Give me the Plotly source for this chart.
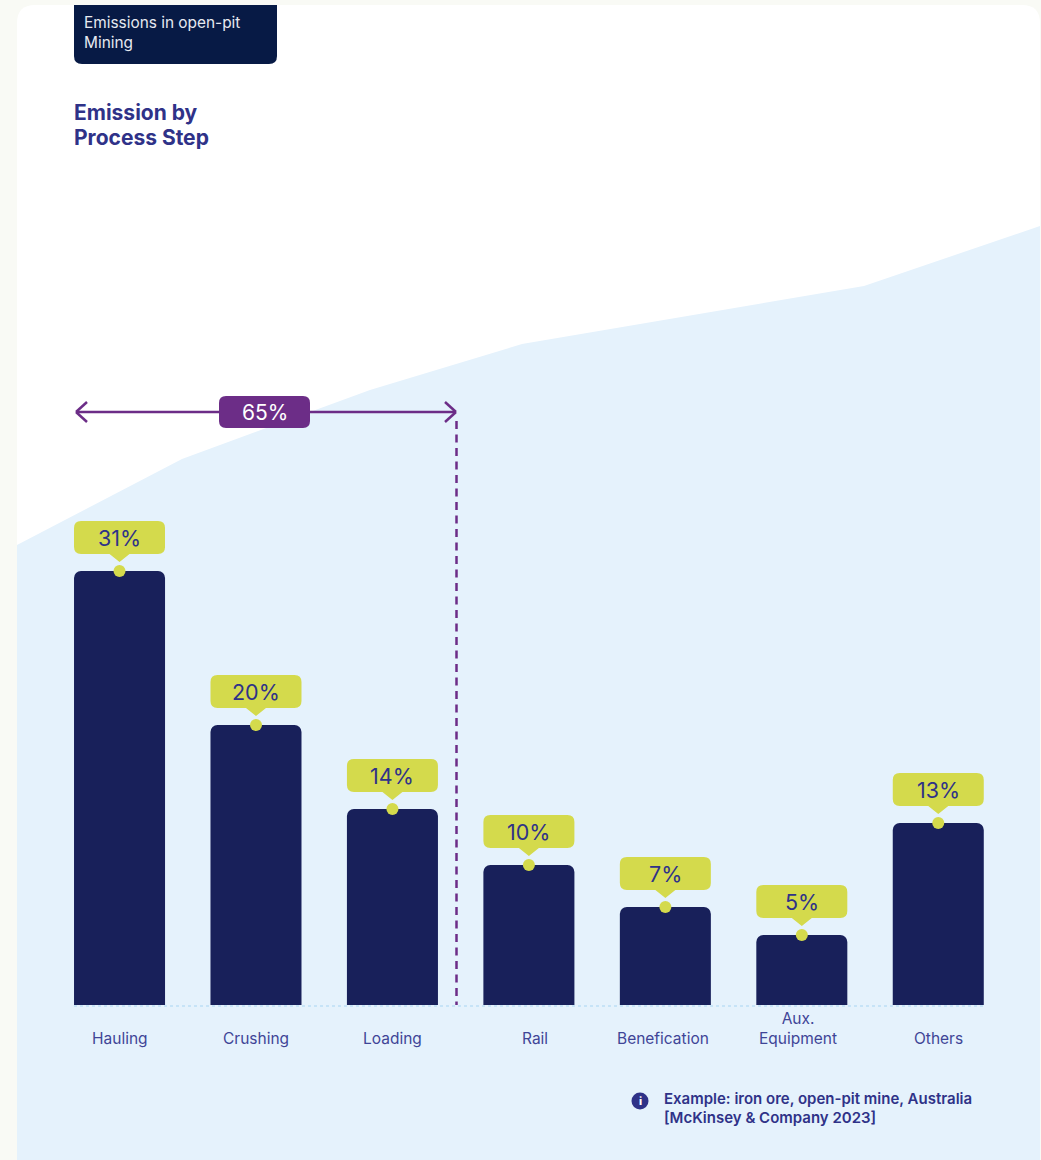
import plotly.graph_objects as go

# Share of open-pit mining emissions per process step
categories = ["Hauling", "Crushing", "Loading", "Rail", "Benefication", "Aux. Equipment", "Others"]
shares = [31, 20, 14, 10, 7, 5, 13]
cumulative_label = "65%"
tick_labels = ["Hauling", "Crushing", "Loading", "Rail", "Benefication", "Aux.<br>Equipment", "Others"]

W, H = 1041, 1160
NAVY, INK, PURPLE, LIME = "#18205A", "#2F3288", "#6C2D87", "#D4DA4C"
SKY, PAGE, HEADER, TICK = "#E5F2FC", "#F9FAF5", "#071A45", "#3F4597"
FONT = "Inter"

# Plot area, in page pixels
BASE_Y = 1005
PLOT_L, PLOT_R = 51.3, 1006.5
PX_PER_POINT = 14.0
label_nudge = [0, 0, 0, 6, -2, -4, 0]


def fx(px):
    return px / W


def fy(py):
    return 1 - py / H


def page_path(points):
    return "M" + " L".join(f"{fx(x):.5f},{fy(y):.5f}" for x, y in points) + " Z"


def rounded_top_path(x0, y0, x1, y1, r):
    """Card outline with rounded top corners, in paper coordinates."""
    rx, ry = r / W, r / H
    l, t, rgt, b = fx(x0), fy(y0), fx(x1), fy(y1)
    return (f"M{l},{b} L{l},{t - ry} Q{l},{t} {l + rx},{t} L{rgt - rx},{t} "
            f"Q{rgt},{t} {rgt},{t - ry} L{rgt},{b} Z")


def rounded_bottom_path(x0, y0, x1, y1, r):
    rx, ry = r / W, r / H
    l, t, rgt, b = fx(x0), fy(y0), fx(x1), fy(y1)
    return (f"M{l},{t} L{rgt},{t} L{rgt},{b + ry} Q{rgt},{b} {rgt - rx},{b} "
            f"L{l + rx},{b} Q{l},{b} {l},{b + ry} Z")


def rounded_rect_path(x0, y0, x1, y1, r):
    rx, ry = r / W, r / H
    l, t, rgt, b = fx(x0), fy(y0), fx(x1), fy(y1)
    return (f"M{l + rx},{t} L{rgt - rx},{t} Q{rgt},{t} {rgt},{t - ry} L{rgt},{b + ry} "
            f"Q{rgt},{b} {rgt - rx},{b} L{l + rx},{b} Q{l},{b} {l},{b + ry} "
            f"L{l},{t - ry} Q{l},{t} {l + rx},{t} Z")


def callout_path(half_w=45.5, bottom=17, top=50, r=7, tip=9, tip_w=10):
    """Label bubble with a pointer, in pixels relative to the top of a bar."""
    return (f"M{-half_w + r},{top} L{half_w - r},{top} Q{half_w},{top} {half_w},{top - r} "
            f"L{half_w},{bottom + r} Q{half_w},{bottom} {half_w - r},{bottom} "
            f"L{tip_w},{bottom} L0,{tip} L{-tip_w},{bottom} L{-half_w + r},{bottom} "
            f"Q{-half_w},{bottom} {-half_w},{bottom + r} L{-half_w},{top - r} "
            f"Q{-half_w},{top} {-half_w + r},{top} Z")


def paper_shape(path, fill, layer="below"):
    return dict(type="path", xref="paper", yref="paper", path=path, fillcolor=fill,
                line_width=0, layer=layer)


def paper_line(x0, y0, x1, y1, color, width, dash="solid", layer="above"):
    return dict(type="line", xref="paper", yref="paper", x0=fx(x0), y0=fy(y0), x1=fx(x1), y1=fy(y1),
                line=dict(color=color, width=width, dash=dash), layer=layer)


fig = go.Figure()

fig.add_bar(x=categories, y=shares, width=0.667, marker=dict(color=NAVY, line_width=0),
            hovertemplate="%{x}: %{y}%<extra></extra>")
fig.add_scatter(x=categories, y=shares, mode="markers", marker=dict(color=LIME, size=12),
                hoverinfo="skip")

shapes = [
    paper_shape(rounded_top_path(17, 5, 1040, 1160, 18), "#FFFFFF"),
    paper_shape(page_path([(17, 545), (182, 459), (370, 390), (522, 344), (864, 286),
                           (1040, 226), (1040, 1160), (17, 1160)]), SKY),
    paper_shape(rounded_bottom_path(74, 5, 277, 64, 8), HEADER),
    paper_line(74, 1006, 984, 1006, "#A8D5F2", 1, "dot", "below"),
    # Bracket spanning the three largest steps
    paper_line(456.5, 421, 456.5, 1005, PURPLE, 2.5, "8px,5.5px"),
    paper_line(76, 412, 456, 412, PURPLE, 2.5),
    paper_line(76, 412, 87, 402, PURPLE, 2.5),
    paper_line(76, 412, 87, 422, PURPLE, 2.5),
    paper_line(456, 412, 445, 402, PURPLE, 2.5),
    paper_line(456, 412, 445, 422, PURPLE, 2.5),
    paper_shape(rounded_rect_path(219, 396, 310, 428, 7), PURPLE, "above"),
    dict(type="circle", xref="paper", yref="paper", x0=fx(631.5), x1=fx(648.5), y0=fy(1109.5),
         y1=fy(1092.5), fillcolor=INK, line_width=0),
]
for i, share in enumerate(shares):
    shapes.append(dict(type="path", xref="x", yref="y", xsizemode="pixel", ysizemode="pixel",
                       xanchor=i, yanchor=share, path=callout_path(), fillcolor=LIME,
                       line_width=0, layer="above"))


def page_text(text, x, y, size, color, weight=400, xanchor="left", align="left"):
    return dict(text=text, xref="paper", yref="paper", x=fx(x), y=fy(y), xanchor=xanchor,
                yanchor="middle", align=align, showarrow=False,
                font=dict(family=FONT, size=size, color=color, weight=weight))


annotations = [
    page_text("Emissions in open-pit", 82, 23, 15.4, "#E6E9F0"),
    page_text("Mining", 82, 42, 15.4, "#E6E9F0"),
    page_text("Emission by", 72, 113, 21, INK, 700),
    page_text("Process Step", 72, 138, 21, INK, 700),
    page_text(cumulative_label, 264.5, 412.5, 21, "#FFFFFF", xanchor="center"),
    page_text("i", 640, 1101, 11, "#FFFFFF", 800, xanchor="center"),
    page_text("Example: iron ore, open-pit mine, Australia", 662, 1098, 15, INK, 600),
    page_text("[McKinsey &amp; Company 2023]", 662, 1117, 15, INK, 600),
]
for i, share in enumerate(shares):
    annotations.append(dict(text=f"{share}%", x=i, y=share, xref="x", yref="y", yshift=33,
                            showarrow=False, font=dict(family=FONT, size=21.5, color=INK)))
    annotations.append(dict(text=tick_labels[i], x=i, y=0, xref="x", yref="y", xshift=label_nudge[i],
                            yshift=-45, yanchor="bottom", showarrow=False, align="center",
                            font=dict(family=FONT, size=15.5, color=TICK)))

fig.update_layout(
    width=W, height=H, margin=dict(l=0, r=0, t=0, b=0), autosize=False,
    paper_bgcolor=PAGE, plot_bgcolor="rgba(0,0,0,0)", showlegend=False,
    barcornerradius=7, shapes=shapes, annotations=annotations,
    font=dict(family=FONT),
    xaxis=dict(domain=[fx(PLOT_L), fx(PLOT_R)], range=[-0.5, 6.5], type="category",
               categoryorder="array", categoryarray=categories, visible=False),
    yaxis=dict(domain=[fy(BASE_Y), 1], range=[0, BASE_Y / PX_PER_POINT], visible=False),
)

fig.write_html("out.html", config=dict(displayModeBar=False))
